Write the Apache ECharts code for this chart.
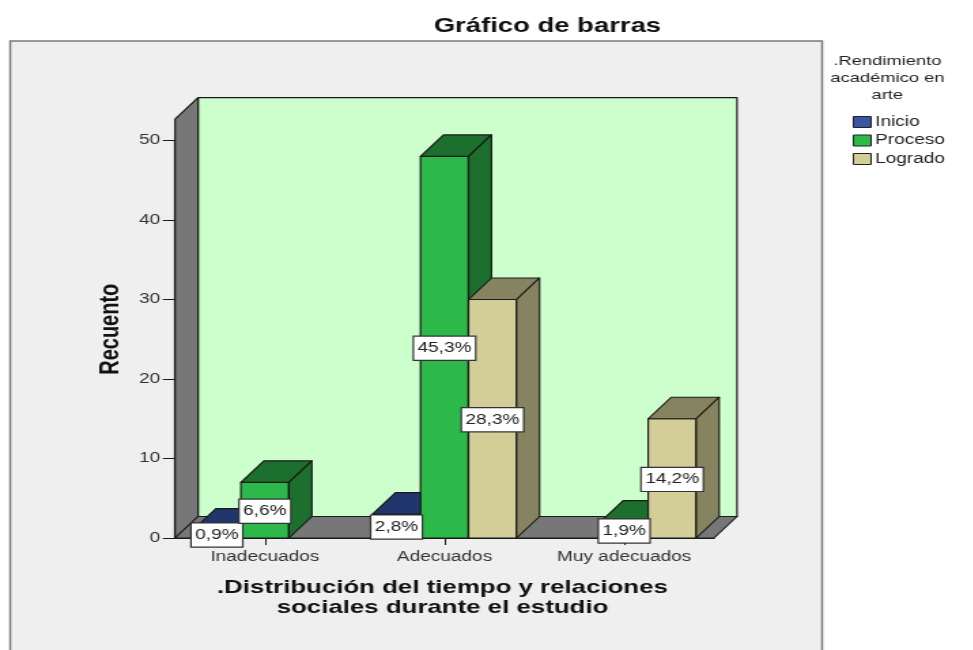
<!DOCTYPE html>
<html>
<head>
<meta charset="utf-8">
<style>
html,body{margin:0;padding:0;background:#fff;overflow:hidden;width:973px;height:650px}
#c{width:715.4px;height:650px;transform:scaleX(1.36);transform-origin:0 0}
</style>
<script src="https://cdn.jsdelivr.net/npm/echarts@6/dist/echarts.min.js"></script>
</head>
<body>
<div id="c"></div>
<script>
const categories = ['Inadecuados', 'Adecuados', 'Muy adecuados'];
const inicio = [1, 3, 0];
const proceso = [7, 48, 2];
const logrado = [0, 30, 15];
const inicioPct = ['0,9%', '2,8%', ''];
const procesoPct = ['6,6%', '45,3%', '1,9%'];
const logradoPct = ['', '28,3%', '14,2%'];
const yTicks = [0, 10, 20, 30, 40, 50];

const FONT = '"Liberation Sans", Arial, sans-serif';
const DX = 16.9, DY = 21.5;
const WALL_TOP = 52.7;
const BAR_FRACTION = 48 / 179.67;
const LINE = '#1a1a1a';

const chart = echarts.init(document.getElementById('c'), null, {renderer: 'canvas'});

function face(points, fill) {
  return {type: 'polygon', shape: {points}, style: {fill, stroke: LINE, lineWidth: 1.2, lineJoin: 'round'}};
}

function barRender(index, front, dark) {
  return function (params, api) {
    const cat = api.value(0), val = api.value(1);
    if (!val) return null;
    const w = api.size([1, 0])[0] * BAR_FRACTION;
    const top = api.coord([cat, val]);
    const base = api.coord([cat, 0]);
    const l = top[0] + (index - 1.5) * w, r = l + w;
    const t = top[1], b = base[1];
    return {type: 'group', children: [
      face([[l, b], [r, b], [r, t], [l, t]], front),
      face([[l, t], [r, t], [r + DX, t - DY], [l + DX, t - DY]], dark),
      face([[r, b], [r + DX, b - DY], [r + DX, t - DY], [r, t]], dark)
    ]};
  };
}

function wallRender(params, api) {
  const rect = params.coordSys;
  const l = rect.x, r = rect.x + rect.width;
  const b = api.coord([0, 0])[1];
  const t = api.coord([0, WALL_TOP])[1];
  return {type: 'group', children: [
    face([[l + DX, t - DY], [r + DX, t - DY], [r + DX, b - DY], [l + DX, b - DY]], '#ccffcc'),
    face([[l, t], [l + DX, t - DY], [l + DX, b - DY], [l, b]], '#777777'),
    face([[l, b], [l + DX, b - DY], [r + DX, b - DY], [r, b]], '#777777')
  ]};
}

function labelRender(params, api) {
  const cat = api.value(0), val = api.value(1), idx = api.value(2);
  const text = api.value(3);
  if (!val) return null;
  const w = api.size([1, 0])[0] * BAR_FRACTION;
  const p = api.coord([cat, val / 2]);
  return {
    type: 'text',
    x: p[0] + (idx - 1) * w,
    y: p[1] + 1,
    style: {
      text, font: '14px ' + FONT, fill: '#222', align: 'center', verticalAlign: 'middle',
      backgroundColor: '#fff', borderColor: '#333', borderWidth: 1.2, padding: [5, 2.5, 4, 2.5]
    }
  };
}

const groups = [
  {name: 'Inicio', values: inicio, pct: inicioPct, front: '#3a55a5', dark: '#22366e'},
  {name: 'Proceso', values: proceso, pct: procesoPct, front: '#2db84a', dark: '#1c6f2c'},
  {name: 'Logrado', values: logrado, pct: logradoPct, front: '#d3cd98', dark: '#858360'}
];

const labelData = [];
groups.forEach((g, i) => g.values.forEach((v, c) => labelData.push([c, v, i, g.pct[c]])));

chart.setOption({
  animation: false,
  backgroundColor: '#ffffff',
  textStyle: {fontFamily: FONT},
  title: [
    {text: 'Gráfico de barras', left: 397.5, top: 11, textAlign: 'center',
      textStyle: {fontFamily: FONT, fontSize: 20.2, fontWeight: 'bold', color: '#111'}},
    {text: '.Rendimiento\nacadémico en\narte', left: 647.5, top: 47.5, textAlign: 'center',
      textStyle: {fontFamily: FONT, fontSize: 13.5, fontWeight: 'normal', color: '#222', lineHeight: 17}}
  ],
  graphic: [{
    type: 'rect', z: -10, silent: true,
    shape: {x: 7.5, y: 41, width: 597, height: 640},
    style: {fill: '#efefef', stroke: '#7a7a7a', lineWidth: 1.5}
  }],
  legend: {
    data: groups.map(g => g.name),
    orient: 'vertical', left: 622, top: 110, itemWidth: 13, itemHeight: 11, itemGap: 4.5,
    icon: 'rect', selectedMode: false,
    itemStyle: {borderColor: '#222', borderWidth: 1},
    textStyle: {fontFamily: FONT, fontSize: 14, color: '#222', padding: [0, 0, 0, -2]}
  },
  grid: {left: 128.7, width: 396.3, top: 140.5, height: 397.5},
  xAxis: {
    type: 'category', data: categories,
    name: '.Distribución del tiempo y relaciones\nsociales durante el estudio',
    nameLocation: 'middle', nameGap: 40,
    nameTextStyle: {fontFamily: FONT, fontSize: 19, fontWeight: 'bold', color: '#111', lineHeight: 20, padding: [0, 3, 0, 0]},
    axisLine: {show: true, lineStyle: {color: LINE, width: 1.2}},
    axisTick: {show: true, alignWithLabel: true, length: 7, lineStyle: {color: LINE}},
    axisLabel: {fontFamily: FONT, fontSize: 14, color: '#333', margin: 12},
    splitLine: {show: false}
  },
  yAxis: {
    type: 'value', min: yTicks[0], max: yTicks[yTicks.length - 1], interval: 10,
    name: 'Recuento', nameLocation: 'middle', nameGap: 37,
    nameTextStyle: {fontFamily: FONT, fontSize: 20, fontWeight: 'bold', color: '#111', padding: [0, 0, 0, 20]},
    axisLine: {show: true, lineStyle: {color: LINE, width: 1.2}},
    axisTick: {show: true, length: 9, lineStyle: {color: LINE}},
    axisLabel: {fontFamily: FONT, fontSize: 14, color: '#333', margin: 11, padding: [3, 0, 0, 0]},
    splitLine: {show: false}
  },
  series: [
    {type: 'custom', name: 'walls', z: 1, silent: true, clip: false,
      renderItem: wallRender, encode: {x: 0, y: 1}, data: [[0, 0]]}
  ].concat(groups.map((g, i) => ({
    type: 'custom', name: g.name, z: 2 + i, clip: false,
    itemStyle: {color: g.front},
    renderItem: barRender(i, g.front, g.dark),
    encode: {x: 0, y: 1},
    data: g.values.map((v, c) => [c, v])
  }))).concat([
    {type: 'custom', name: 'etiquetas', z: 10, clip: false,
      renderItem: labelRender, encode: {x: 0, y: 1},
      dimensions: ['c', 'v', 'i', {name: 't', type: 'ordinal'}],
      data: labelData}
  ])
});
</script>
</body>
</html>
